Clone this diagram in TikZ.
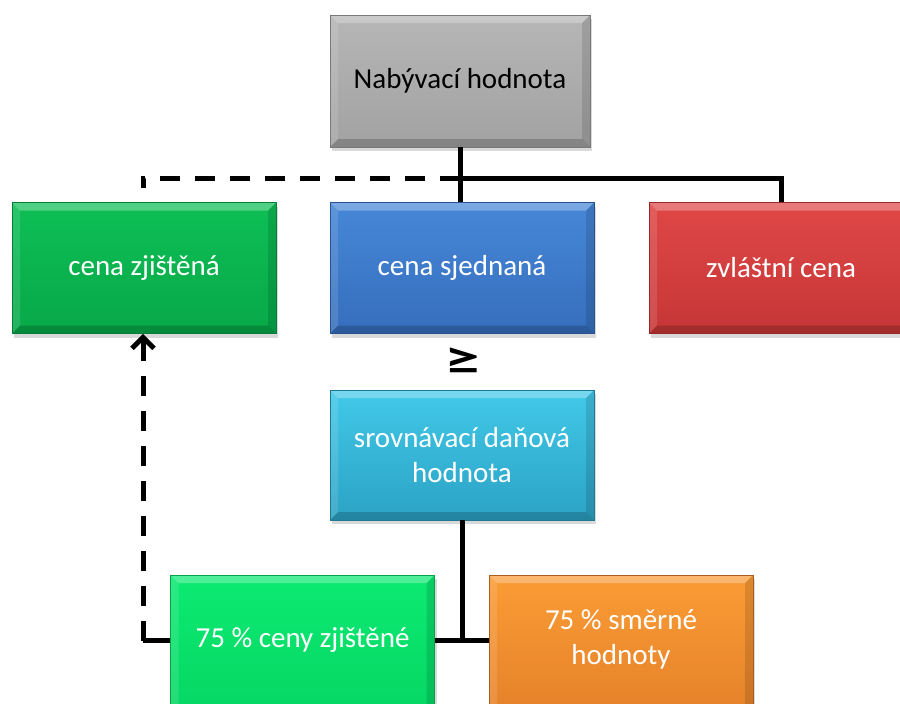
\documentclass[tikz,border=0pt]{standalone}
\usepackage{fontspec}
\setmainfont{Carlito}
\usetikzlibrary{arrows.meta,shadows}
\definecolor{grayT}{HTML}{B6B6B6}\definecolor{grayB}{HTML}{A2A2A2}
\definecolor{gzT}{HTML}{0DBF55}\definecolor{gzB}{HTML}{08A849}
\definecolor{blT}{HTML}{4787D8}\definecolor{blB}{HTML}{356EBC}
\definecolor{rdT}{HTML}{E04747}\definecolor{rdB}{HTML}{C63636}
\definecolor{cyT}{HTML}{42C9E9}\definecolor{cyB}{HTML}{2BA2C4}
\definecolor{g2T}{HTML}{0CEA72}\definecolor{g2B}{HTML}{05D562}
\definecolor{orT}{HTML}{FA9C35}\definecolor{orB}{HTML}{E37F29}
\tikzset{
  bevel/.style={path picture={
    \fill[white,opacity=0.28] (path picture bounding box.north west) -- (path picture bounding box.north east) -- ([shift={(-8pt,-8pt)}]path picture bounding box.north east) -- ([shift={(8pt,-8pt)}]path picture bounding box.north west) -- cycle;
    \fill[white,opacity=0.12] (path picture bounding box.north west) -- ([shift={(8pt,-8pt)}]path picture bounding box.north west) -- ([shift={(8pt,8pt)}]path picture bounding box.south west) -- (path picture bounding box.south west) -- cycle;
    \fill[black,opacity=0.18] (path picture bounding box.south west) -- (path picture bounding box.south east) -- ([shift={(-8pt,8pt)}]path picture bounding box.south east) -- ([shift={(8pt,8pt)}]path picture bounding box.south west) -- cycle;
    \fill[black,opacity=0.12] (path picture bounding box.north east) -- ([shift={(-8pt,-8pt)}]path picture bounding box.north east) -- ([shift={(-8pt,8pt)}]path picture bounding box.south east) -- (path picture bounding box.south east) -- cycle;
  }},
  box/.style 2 args={rectangle, minimum width=264pt, minimum height=131pt, inner sep=0pt,
    text=white, font=\fontsize{29}{35}\selectfont, align=center,
    top color=#1, bottom color=#2, draw=#2!75!black, line width=0.6pt,
    drop shadow={opacity=0.3, shadow xshift=2pt, shadow yshift=-4pt}, bevel},
  lowbox/.style={minimum height=151pt, text depth=26pt},
  conn/.style={line width=5pt, black},
  dashline/.style={conn, dash pattern=on 20pt off 15pt},
}
\begin{document}
\begin{tikzpicture}[x=1pt,y=-1pt]
\useasboundingbox (0,0) rectangle (900,704);
\node[box={grayT}{grayB}, minimum width=260pt, minimum height=132pt, text=black] (top) at (460,81) {Nabývací hodnota};
\node[box={gzT}{gzB}] (zj) at (144,268) {cena zjištěná};
\node[box={blT}{blB}] (sj) at (462,268) {cena sjednaná};
\node[box={rdT}{rdB}] (zv) at (781,268) {zvláštní cena};
\node[font=\bfseries\fontsize{46}{50}\selectfont, inner sep=0pt] (ge) at (462,361) {\scalebox{1.55}[1]{≥}};
\node[box={cyT}{cyB}, minimum height=130pt] (srov) at (462,455) {srovnávací daňová\\hodnota};
\node[box={g2T}{g2B}, lowbox] (z75) at (302.5,650.5) {75 \% ceny zjištěné};
\node[box={orT}{orB}, lowbox] (sm) at (621,650.5) {75 \% směrné\\hodnoty};
\coordinate (jt) at (460,178);
\coordinate (dc) at (143,188);
\coordinate (lc) at (143,640.5);
\draw[conn] (top.south) -- (top.south |- sj.north);
\draw[conn] (jt) -| (zv.north);
\draw[dashline] (jt) -| (dc);
\draw[conn] (srov.south) -- (srov.south |- lc);
\draw[conn] (z75.east |- lc) -- (sm.west |- lc);
\draw[conn] (z75.west |- lc) -- (lc);
\draw[dashline, -{Straight Barb[length=11pt,width=22pt]}] (lc) -- (lc |- zj.south);
\end{tikzpicture}
\end{document}
